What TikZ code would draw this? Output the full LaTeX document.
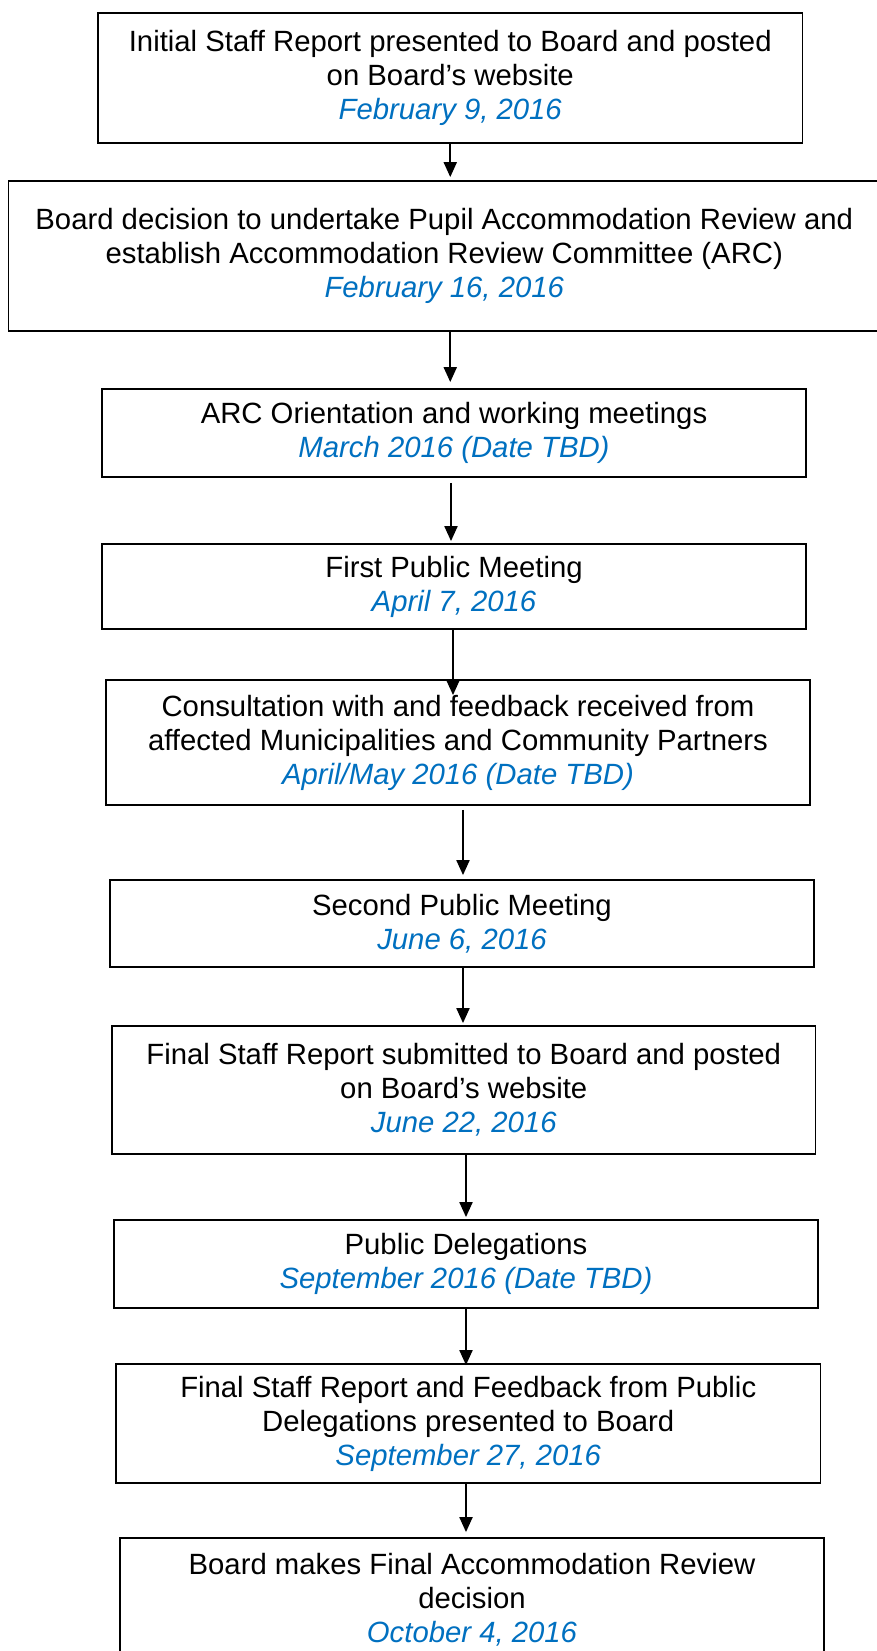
\documentclass[tikz,border=0pt]{standalone}
\usepackage{fontspec}
\setmainfont{Liberation Sans}
\usetikzlibrary{arrows.meta,calc}
\definecolor{dateblue}{HTML}{0070C0}
\tikzset{
  stepbox/.style={draw=black, line width=1.8pt, rectangle, inner sep=0pt,
    align=center, font=\fontsize{29.3}{34}\selectfont, text=black},
  arr/.style={draw=black, line width=2pt, -{Triangle[length=15pt,width=13pt]}}
}
\newcommand{\dt}[1]{{\itshape\color{dateblue}#1}}
\begin{document}
\begin{tikzpicture}[x=1pt,y=-1pt]
\useasboundingbox (0,0) rectangle (877,1651);
\clip (0,0) rectangle (877,1651);
\fill[white] (0,0) rectangle (877,1651);
\node[stepbox, minimum width=704.5pt, minimum height=130pt] (b1) at (450.25,78)
  {Initial Staff Report presented to Board and posted\\on Board’s website\\\dt{February 9, 2016}};
\node[stepbox, minimum width=871.5pt, minimum height=150pt] (b2) at (444.25,256)
  {Board decision to undertake Pupil Accommodation Review and\\establish Accommodation Review Committee (ARC)\\\dt{February 16, 2016}};
\node[stepbox, minimum width=704pt, minimum height=88pt] (b3) at (454,433)
  {ARC Orientation and working meetings\\\dt{March 2016 (Date TBD)}};
\node[stepbox, minimum width=704pt, minimum height=85pt] (b4) at (454,586.5)
  {First Public Meeting\\\dt{April 7, 2016}};
\node[stepbox, minimum width=704pt, minimum height=125pt] (b5) at (458,742.5)
  {Consultation with and feedback received from\\affected Municipalities and Community Partners\\\dt{April/May 2016 (Date TBD)}};
\node[stepbox, minimum width=704pt, minimum height=87pt] (b6) at (462,923.5)
  {Second Public Meeting\\\dt{June 6, 2016}};
\node[stepbox, minimum width=703.5pt, minimum height=128pt] (b7) at (463.75,1090)
  {Final Staff Report submitted to Board and posted\\on Board’s website\\\dt{June 22, 2016}};
\node[stepbox, minimum width=704pt, minimum height=88pt] (b8) at (466,1264)
  {Public Delegations\\\dt{September 2016 (Date TBD)}};
\node[stepbox, minimum width=704.5pt, minimum height=119pt] (b9) at (468.25,1423.5)
  {Final Staff Report and Feedback from Public\\Delegations presented to Board\\\dt{September 27, 2016}};
\node[stepbox, minimum width=704pt, minimum height=124pt] (b10) at (472,1600)
  {Board makes Final Accommodation Review\\decision\\\dt{October 4, 2016}};
% connectors
\draw[arr] (b1.south) -- ($(b1.south |- b2.north)+(0,-3)$);
\draw[arr] (b2.south -| b1.south) -- ($(b1.south |- b3.north)+(0,-6)$);
\draw[arr] ($(b3.south)+(-3,5)$) -- ($(b3.south |- b4.north)+(-3,-2)$);
\draw[arr] ($(b4.south)+(-1,0)$) -- ($(b4.south |- b5.north)+(-1,16)$);
\draw[arr] ($(b5.south)+(5,4)$) -- ($(b5.south |- b6.north)+(5,-4)$);
\draw[arr] ($(b6.south)+(1,0)$) -- ($(b6.south |- b7.north)+(1,-2)$);
\draw[arr] ($(b7.south)+(2.25,0)$) -- ($(b7.south |- b8.north)+(2.25,-2)$);
\draw[arr] ($(b8.south)+(0,-1)$) -- ($(b8.south |- b9.north)+(0,2)$);
\draw[arr] ($(b9.south)+(-2.25,0)$) -- ($(b9.south |- b10.north)+(-2.25,-5)$);
\end{tikzpicture}
\end{document}
